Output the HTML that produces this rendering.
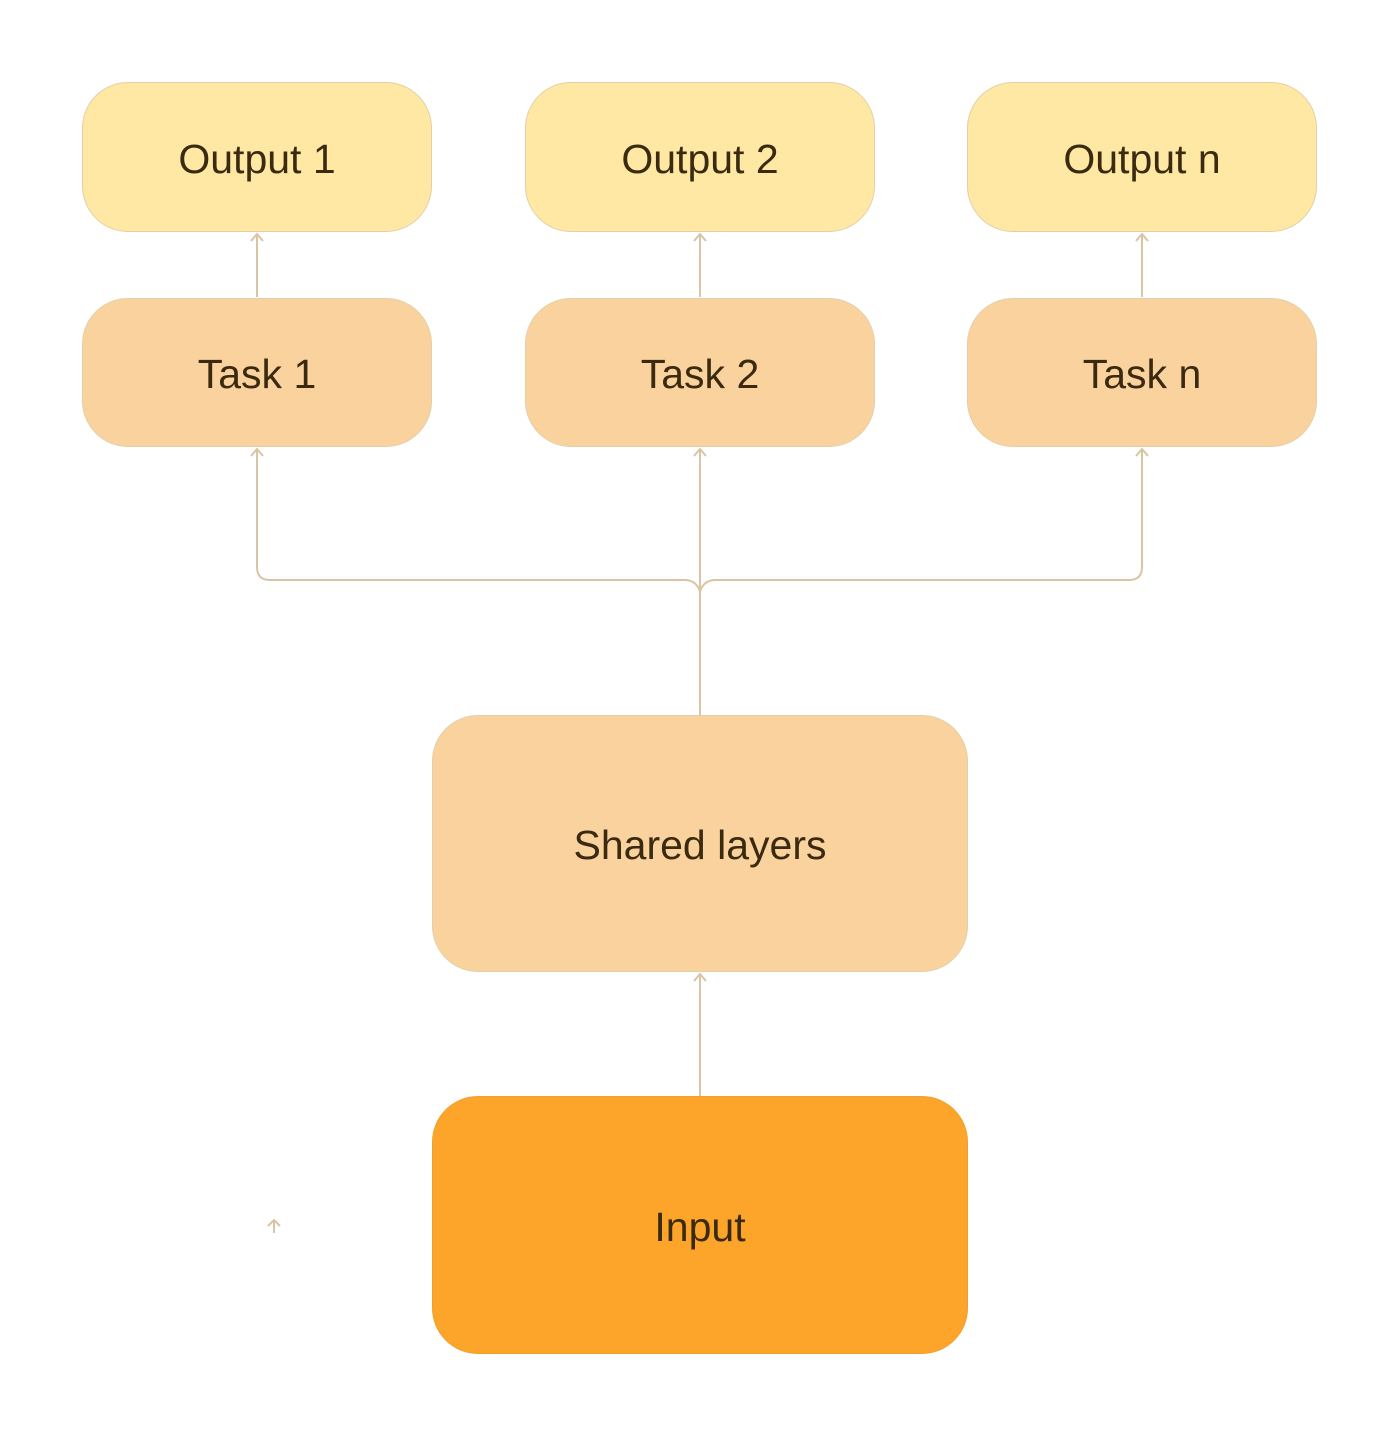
<!DOCTYPE html>
<html><head><meta charset="utf-8"><style>
html,body{margin:0;padding:0;background:#fff;}
body{width:1400px;height:1436px;position:relative;overflow:hidden;font-family:"Liberation Sans",sans-serif;}
.b{position:absolute;box-sizing:border-box;display:flex;align-items:center;justify-content:center;color:#3a2a10;font-size:41px;padding-top:4px;border-radius:46px;border:1px solid #e2cfa8;}
.o{background:#FFE8A3;}
.t{background:#FAD29E;}
.i{background:#FDA42B;border-color:#f0a030;}
svg{position:absolute;left:0;top:0;}
</style></head><body>
<svg width="1400" height="1436" fill="none" stroke="#D9C4A4" stroke-width="2">
<path d="M257 297V234M700 297V234M1142 297V234"/>
<path d="M251 241l6-7 6 7M694 241l6-7 6 7M1136 241l6-7 6 7"/>
<path d="M700 1096V974M694 981l6-7 6 7"/>
<path d="M700 715V449M694 456l6-7 6 7"/>
<path d="M700 592Q697 581 686 580H270Q257 580 257 567V449M251 456l6-7 6 7"/>
<path d="M700 592Q703 581 714 580H1129Q1142 580 1142 567V449M1136 456l6-7 6 7"/>
<path d="M274 1233V1220M268 1226l6-6 6 6"/>
</svg>
<div class="b o" style="left:82px;top:82px;width:350px;height:150px">Output 1</div>
<div class="b o" style="left:525px;top:82px;width:350px;height:150px">Output 2</div>
<div class="b o" style="left:967px;top:82px;width:350px;height:150px">Output n</div>
<div class="b t" style="left:82px;top:298px;width:350px;height:149px">Task 1</div>
<div class="b t" style="left:525px;top:298px;width:350px;height:149px">Task 2</div>
<div class="b t" style="left:967px;top:298px;width:350px;height:149px">Task n</div>
<div class="b t" style="left:432px;top:715px;width:536px;height:257px">Shared layers</div>
<div class="b i" style="left:432px;top:1096px;width:536px;height:258px">Input</div>
</body></html>
